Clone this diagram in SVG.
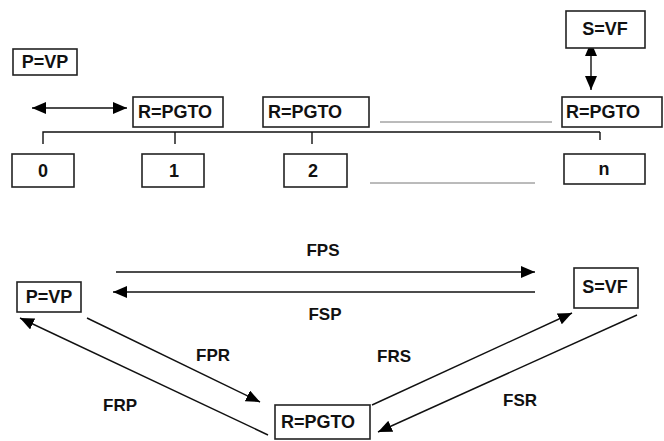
<svg xmlns="http://www.w3.org/2000/svg" width="664" height="441" viewBox="0 0 664 441">
<defs>
<marker id="ah" viewBox="0 0 14 12" refX="14" refY="6" markerWidth="14" markerHeight="12" markerUnits="userSpaceOnUse" orient="auto-start-reverse">
<path d="M0,0 L14,6 L0,12 Z" fill="#000"/>
</marker>
<style>
.box{fill:#fff;stroke:#222;stroke-width:1.6}
.t{font-family:"Liberation Sans",Arial,sans-serif;font-weight:bold;font-size:18px;fill:#111;text-anchor:middle}
.l{font-family:"Liberation Sans",Arial,sans-serif;font-weight:bold;font-size:17px;fill:#111;text-anchor:middle}
.ln{stroke:#111;stroke-width:1.4;fill:none}
.fn{stroke:#777;stroke-width:1;fill:none}
</style>
</defs>
<rect width="664" height="441" fill="#fff"/>

<g id="connectors">
<line class="ln" x1="32" y1="108" x2="127" y2="108" marker-start="url(#ah)" marker-end="url(#ah)"/>
<line class="ln" x1="591" y1="42" x2="591" y2="90" marker-start="url(#ah)" marker-end="url(#ah)"/>
<polyline class="ln" points="43,144 43,132 600,132"/>
<line class="ln" x1="175" y1="132" x2="175" y2="144"/>
<line class="ln" x1="312" y1="132" x2="312" y2="144"/>
<line class="ln" x1="600" y1="132" x2="600" y2="140"/>
<line class="fn" x1="380" y1="122" x2="552" y2="122"/>
<line class="fn" x1="370" y1="183" x2="535" y2="183"/>
<line class="ln" x1="116" y1="272" x2="535" y2="272" marker-end="url(#ah)"/>
<line class="ln" x1="535" y1="292" x2="113" y2="292" marker-end="url(#ah)"/>
<line class="ln" x1="87" y1="318" x2="260" y2="402" marker-end="url(#ah)"/>
<line class="ln" x1="268" y1="435" x2="20" y2="318" marker-end="url(#ah)"/>
<line class="ln" x1="372" y1="405" x2="572" y2="313" marker-end="url(#ah)"/>
<line class="ln" x1="637" y1="315" x2="378" y2="432" marker-end="url(#ah)"/>
<text class="l" x="323" y="256">FPS</text>
<text class="l" x="325" y="320">FSP</text>
<text class="l" x="213" y="361">FPR</text>
<text class="l" x="120" y="411">FRP</text>
<text class="l" x="394" y="362">FRS</text>
<text class="l" x="520" y="406">FSR</text>
</g>

<g id="pvp-top"><rect class="box" x="13" y="49" width="64" height="26"/><text class="t" x="45" y="68">P=VP</text></g>
<g id="svf-top"><rect class="box" x="566" y="11" width="79" height="37"/><text class="t" x="605" y="35">S=VF</text></g>
<g id="r1"><rect class="box" x="133" y="97" width="90" height="30"/><text class="t" x="175" y="118">R=PGTO</text></g>
<g id="r2"><rect class="box" x="263" y="97" width="106" height="30"/><text class="t" x="305" y="118">R=PGTO</text></g>
<g id="rn"><rect class="box" x="562" y="97" width="100" height="30"/><text class="t" x="603" y="118">R=PGTO</text></g>
<g id="t0"><rect class="box" x="12" y="154" width="62" height="33"/><text class="t" x="43" y="177">0</text></g>
<g id="t1"><rect class="box" x="142" y="154" width="62" height="33"/><text class="t" x="174" y="177">1</text></g>
<g id="t2"><rect class="box" x="284" y="154" width="63" height="33"/><text class="t" x="313" y="177">2</text></g>
<g id="tn"><rect class="box" x="564" y="154" width="81" height="30"/><text class="t" x="604" y="175">n</text></g>

<g id="pvp"><rect class="box" x="17" y="282" width="64" height="30"/><text class="t" x="49" y="303">P=VP</text></g>
<g id="svf"><rect class="box" x="574" y="268" width="64" height="40"/><text class="t" x="605" y="293">S=VF</text></g>
<g id="rpgto"><rect class="box" x="275" y="405" width="95" height="34"/><text class="t" x="318" y="428">R=PGTO</text></g>
</svg>
